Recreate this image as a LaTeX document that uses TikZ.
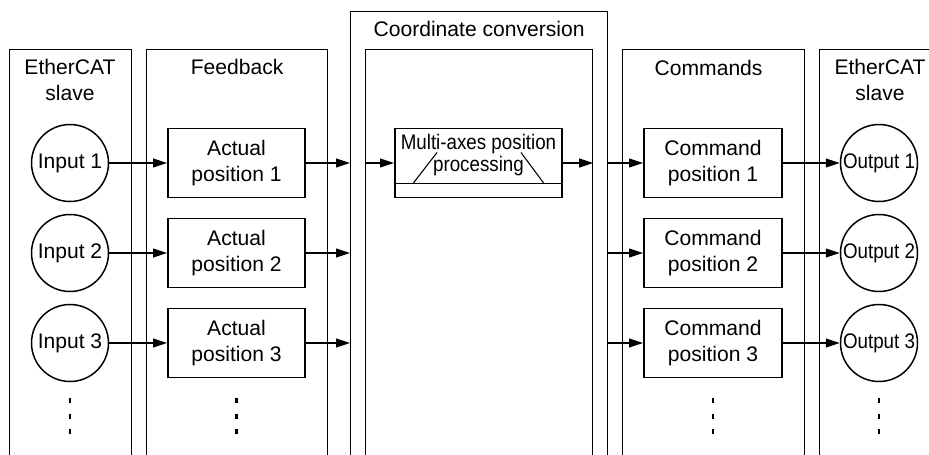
\documentclass[tikz,border=0pt]{standalone}
\usepackage{fontspec}
\setmainfont{Liberation Sans}
\newfontfamily\narrowfont[FakeStretch=0.89]{Liberation Sans}
\usetikzlibrary{arrows.meta, positioning, calc}
\newcommand{\diagfont}{\fontsize{12}{15.3}\selectfont}
\tikzset{
    % Open column frames (run off the bottom)
    column/.style={
        rectangle,
        draw=black,
        line width=0.7pt,
        anchor=north west,
        minimum height=9.6cm
    },
    title/.style={
        align=center,
        font=\diagfont
    },
    position box/.style={
        rectangle,
        draw=black,
        line width=1.1pt,
        minimum width=2.74cm,
        minimum height=1.38cm,
        align=center,
        font=\diagfont
    },
    port/.style={
        circle,
        draw=black,
        line width=0.85pt,
        minimum size=1.54cm,
        inner sep=0pt,
        font=\diagfont
    },
    arrow style/.style={
        -{Triangle[length=0.28cm, width=0.18cm]},
        line width=0.6pt,
        black
    },
    vdots/.style={
        line width=1.6pt,
        dash pattern=on 0.1cm off 0.21cm
    }
}

\begin{document}
\begin{tikzpicture}
        \useasboundingbox (0,0) rectangle (18.58,9.08);
        \clip (0,0) rectangle (18.58,9.08);

        % Column frames
        \node[column, minimum width=2.44cm] (slaveL) at (0.18,8.10) {};
        \node[column, minimum width=3.62cm] (feedback) at (2.92,8.10) {};
        \node[column, minimum width=5.14cm] (convouter) at (7.00,8.86) {};
        \node[column, minimum width=4.54cm] (convinner) at (7.30,8.10) {};
        \node[column, minimum width=3.64cm] (commands) at (12.44,8.10) {};
        \node[column, minimum width=3.00cm] (slaveR) at (16.38,8.10) {};

        % Column titles
        \node[title] (slaveLtitle) at ([xshift=1.22cm, yshift=-0.62cm]slaveL.north west) {EtherCAT\\slave};
        \node[title] (feedbacktitle) at ([yshift=-0.35cm]feedback.north) {Feedback};
        \node[title] (convtitle) at ([yshift=-0.35cm]convouter.north) {Coordinate conversion};
        \node[title] (commandstitle) at ([xshift=-0.1cm, yshift=-0.37cm]commands.north) {Commands};
        \node[title] (slaveRtitle) at ([xshift=1.22cm, yshift=-0.62cm]slaveR.north west) {EtherCAT\\slave};

        % Rows of inputs, positions and outputs
        \foreach \i/\y in {1/5.82, 2/4.02, 3/2.22} {
            \node[port] (in\i) at (1.40,\y) {Input \i};
            \node[position box] (act\i) at (4.73,\y) {Actual\\position \i};
            \node[position box, minimum width=2.76cm] (cmd\i) at (14.26,\y) {Command\\position \i};
            \node[port, font=\narrowfont\diagfont] (out\i) at (17.58,\y) {Output \i};
            \draw[arrow style] (in\i) -- (act\i);
            \draw[arrow style] (act\i.east) -- (act\i.east -| convouter.west);
            \draw[arrow style] (cmd\i.west -| convouter.east) -- (cmd\i.west);
            \draw[arrow style] (cmd\i) -- (out\i);
        }

        % Multi-axes processing block
        \node[position box, minimum width=3.34cm] (multi) at (9.57,5.82) {};
        \node[font=\narrowfont\diagfont, align=center] (multitext) at ([yshift=0.15cm]multi.center) {Multi-axes position\\[-2.8pt]processing};
        \draw[line width=0.6pt] ([yshift=0.30cm]multi.south west) -- ([yshift=0.30cm]multi.south east);
        \draw[line width=0.6pt] ([shift={(0.38,0.30)}]multi.south west) -- ([shift={(0.86,0.92)}]multi.south west);
        \draw[line width=0.6pt] ([shift={(-0.38,0.30)}]multi.south east) -- ([shift={(-0.84,0.92)}]multi.south east);
        \draw[arrow style] (convinner.west |- multi.west) -- (multi.west);
        \draw[arrow style] (multi.east) -- (convinner.east |- multi.east);

        % Continuation dots
        \foreach \n in {in3, act3, cmd3, out3}
            \draw[vdots] ($(\n.center)+(0,-1.10)$) -- ++(0,-0.72);
    \end{tikzpicture}
\end{document}
